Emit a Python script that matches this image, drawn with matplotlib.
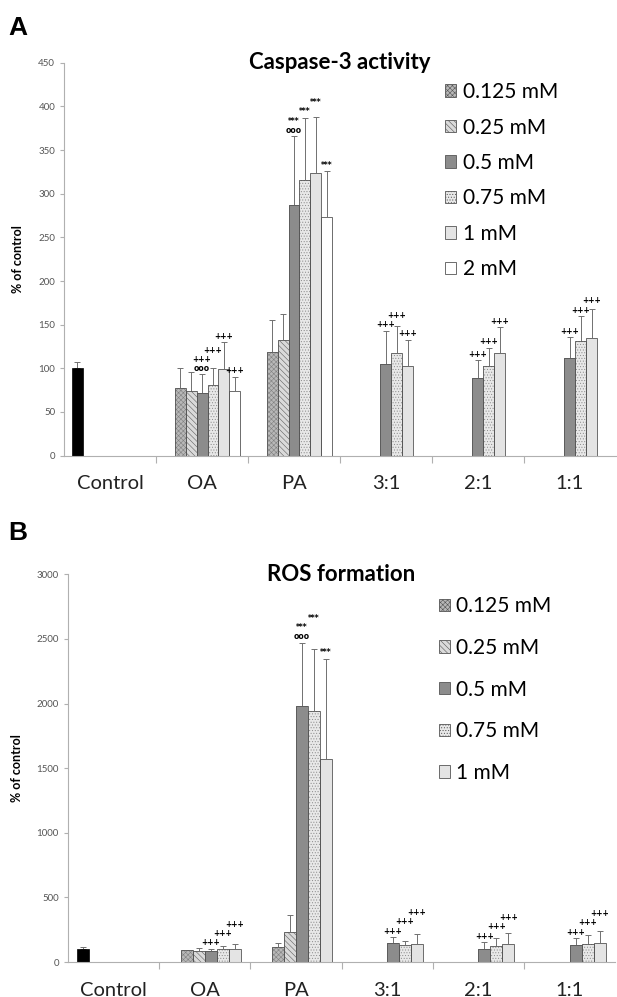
import numpy as np
import matplotlib
matplotlib.use("Agg")
import matplotlib.pyplot as plt
from matplotlib.patches import Patch

plt.rcParams['font.family'] = ['Lato', 'DejaVu Sans']
plt.rcParams['hatch.linewidth'] = 0.4

categories = ["Control", "OA", "PA", "3:1", "2:1", "1:1"]

# Panel A: caspase-3 activity (% of control), None = not measured
casp_control = 100
casp_control_err = 7
casp_labels = ["0.125 mM", "0.25 mM", "0.5 mM", "0.75 mM", "1 mM", "2 mM"]
# rows: OA, PA, 3:1, 2:1, 1:1 ; columns: concentrations
casp_mean = [
    [78, 74, 71.5, 80.6, 99, 74],
    [118.5, 132.6, 287.5, 316, 324, 273],
    [None, None, 105, 118, 103, None],
    [None, None, 88.7, 103, 117, None],
    [None, None, 112, 131, 134.5, None],
]
casp_err = [
    [22, 21.5, 21.5, 19.4, 31, 16.6],
    [36.5, 29.4, 78.5, 71, 64, 53],
    [None, None, 38, 30, 29.6, None],
    [None, None, 20.3, 20.5, 30, None],
    [None, None, 23.7, 29, 33.5, None],
]
casp_marks = [
    ["", "", "+++\nooo", "+++", "+++", "+++"],
    ["", "", "***\nooo", "***", "***", "***"],
    ["", "", "+++", "+++", "+++", ""],
    ["", "", "+++", "+++", "+++", ""],
    ["", "", "+++", "+++", "+++", ""],
]

# Panel B: ROS formation (% of control)
ros_control = 100
ros_control_err = 13
ros_labels = ["0.125 mM", "0.25 mM", "0.5 mM", "0.75 mM", "1 mM"]
ros_mean = [
    [92, 84, 83, 105, 100],
    [116, 232, 1980, 1939, 1574],
    [None, None, 144, 129, 139],
    [None, None, 103, 121, 139],
    [None, None, 129, 139, 144],
]
ros_err = [
    [3, 22, 22, 18, 42],
    [34, 134, 490, 484, 772],
    [None, None, 49, 36, 80],
    [None, None, 52, 64, 85],
    [None, None, 56, 67, 93],
]
ros_marks = [
    ["", "", "+++", "+++", "+++"],
    ["", "", "***\nooo", "***", "***"],
    ["", "", "+++", "+++", "+++"],
    ["", "", "+++", "+++", "+++"],
    ["", "", "+++", "+++", "+++"],
]

# fill / hatch / hatch colour per concentration
styles = [
    dict(facecolor="#b8b8b8", hatch="xxxxxxx", hc="#808080"),
    dict(facecolor="#dadada", hatch="\\\\\\\\\\\\", hc="#606060"),
    dict(facecolor="#8c8c8c", hatch=None, hc="#8c8c8c"),
    dict(facecolor="#e8e8e8", hatch="......", hc="#8a8a8a"),
    dict(facecolor="#e4e4e4", hatch=None, hc="#e4e4e4"),
    dict(facecolor="#ffffff", hatch=None, hc="#ffffff"),
]
EDGE = "#555555"
AXC = "#b0b0b0"
MARK_FS = 5.5
LINE_PT = 6.2  # height of one line of significance marks, in points


def draw_bar(ax, xp, h, w, st):
    ax.bar(xp, h, w, facecolor=st["facecolor"], hatch=st["hatch"],
           edgecolor=st["hc"], linewidth=0, zorder=2)
    ax.bar(xp, h, w, fill=False, edgecolor=EDGE, linewidth=0.6, zorder=3)


def draw_panel(ax, control, control_err, labels, means, errs, marks, ymax, ystep,
               title, leg_x, leg_y, leg_space):
    n_slots = len(labels) + 1
    gap = 1.45 if n_slots == 7 else 1.6
    w = 1.0 / (n_slots + gap)
    x0 = -(n_slots - 1) / 2 * w
    ax.set_ylim(0, ymax)
    fig = ax.figure
    h_pt = ax.get_position().height * fig.get_figheight() * 72

    ekw = dict(fmt="none", ecolor="#707070", elinewidth=0.7, capsize=2, capthick=0.7)

    # control bar (first slot of first category)
    ax.bar(x0, control, w, color="black", edgecolor="black", linewidth=0.5, zorder=2)
    ax.errorbar(x0, control, yerr=[[0], [control_err]], zorder=1, **ekw)

    for ci, (row_m, row_e, row_t) in enumerate(zip(means, errs, marks)):
        cx = ci + 1
        prev = None  # (bottom_pt, top_pt) of the previous mark in this group
        for j, (m, e, t) in enumerate(zip(row_m, row_e, row_t)):
            if m is None:
                prev = None
                continue
            xp = cx + x0 + (j + 1) * w
            draw_bar(ax, xp, m, w, styles[j])
            ax.errorbar(xp, m, yerr=[[0], [e]], zorder=1, **ekw)
            if not t:
                prev = None
                continue
            base = (m + e) / ymax * h_pt + 1
            nlines = t.count("\n") + 1
            bottom, top = base, base + nlines * LINE_PT
            if prev is not None and bottom < prev[1] and top > prev[0]:
                bottom = prev[1] + 0.5
                top = bottom + nlines * LINE_PT
            ax.annotate(t, (xp, m + e), xytext=(0, bottom - base + 1),
                        textcoords="offset points", ha="center", va="bottom",
                        fontsize=MARK_FS, fontweight="bold", linespacing=1.0,
                        family="DejaVu Sans")
            prev = (bottom, top)

    ax.set_xlim(-0.5, len(categories) - 0.5)
    ax.set_yticks(np.arange(0, ymax + 1, ystep))
    ax.set_xticks(range(len(categories)))
    ax.set_xticklabels(categories, fontsize=14.5, color="#222222")
    ax.set_xticks(np.arange(0.5, len(categories) - 0.5, 1), minor=True)
    ax.tick_params(axis="x", which="major", length=0, pad=14)
    ax.tick_params(axis="x", which="minor", length=5, color=AXC, width=0.8)
    ax.tick_params(axis="y", labelsize=7, labelcolor="#555555", length=3, color=AXC, width=0.8)
    for s in ["top", "right"]:
        ax.spines[s].set_visible(False)
    ax.spines["left"].set_color(AXC)
    ax.spines["bottom"].set_color(AXC)
    ax.set_ylabel("% of control", fontsize=9, fontweight="bold", labelpad=10)
    ax.text(0.5, 1.0, title, transform=ax.transAxes, ha="center", va="center",
            fontsize=16, fontweight="bold")

    handles = [Patch(facecolor=styles[j]["facecolor"], hatch=styles[j]["hatch"],
                     edgecolor=EDGE, linewidth=0.6, label=lab)
               for j, lab in enumerate(labels)]
    ax.legend(handles=handles, loc="upper left", bbox_to_anchor=(leg_x, leg_y),
              frameon=False, fontsize=15, handlelength=0.55, handleheight=0.55,
              handletextpad=0.3, labelspacing=leg_space, borderaxespad=0)


fig = plt.figure(figsize=(6.17, 9.97), dpi=100)
ax_a = fig.add_axes([0.104, 0.543, 0.894, 0.394])
ax_b = fig.add_axes([0.110, 0.035, 0.887, 0.389])

draw_panel(ax_a, casp_control, casp_control_err, casp_labels, casp_mean, casp_err,
           casp_marks, 450, 50, "Caspase-3 activity", 0.675, 0.972, 0.74)
draw_panel(ax_b, ros_control, ros_control_err, ros_labels, ros_mean, ros_err,
           ros_marks, 3000, 500, "ROS formation", 0.662, 0.965, 1.04)

fig.text(0.014, 0.965, "A", fontsize=19, fontweight="bold", family="Liberation Sans")
fig.text(0.014, 0.458, "B", fontsize=19, fontweight="bold", family="Liberation Sans")

plt.savefig("out.png", dpi=100, facecolor="white")
